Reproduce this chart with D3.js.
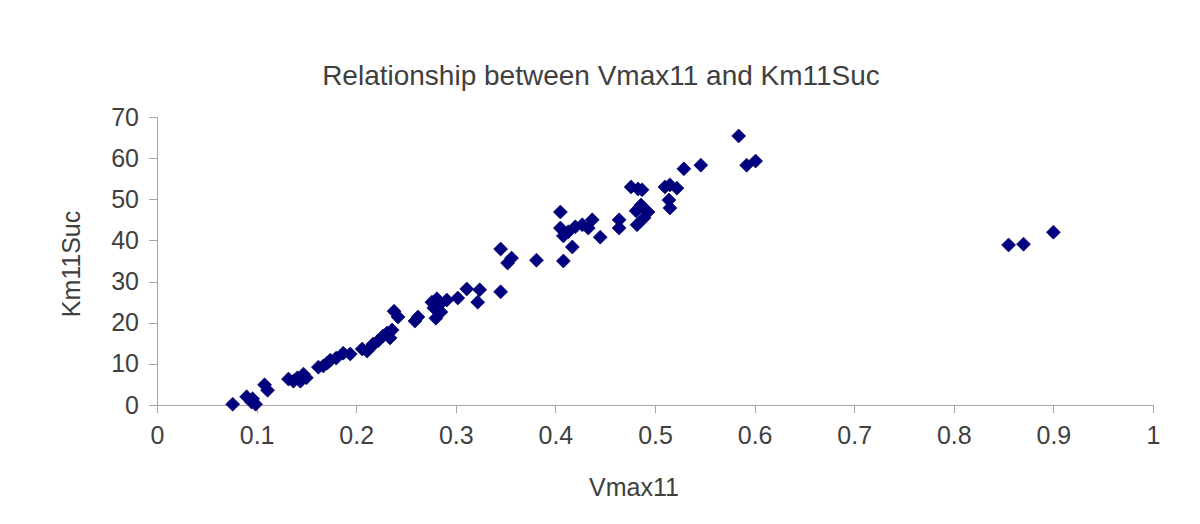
<!DOCTYPE html>
<html><head><meta charset="utf-8">
<script src="https://cdn.jsdelivr.net/npm/d3@7"></script>
<style>body{margin:0;background:#fff}svg{display:block}</style>
</head><body>
<script>
const titleText = "Relationship between Vmax11 and Km11Suc";
const xLabel = "Vmax11";
const yLabel = "Km11Suc";
const xTicks = [0,0.1,0.2,0.3,0.4,0.5,0.6,0.7,0.8,0.9,1];
const yTicks = [0,10,20,30,40,50,60,70];
const vmax = [0.076,0.090,0.095,0.099,0.096,0.108,0.111,0.132,0.137,0.141,0.144,0.147,0.150,0.162,0.167,0.171,0.174,0.180,0.187,0.194,0.206,0.211,0.214,0.217,0.222,0.227,0.231,0.234,0.236,0.238,0.242,0.259,0.262,0.276,0.278,0.281,0.284,0.280,0.285,0.291,0.302,0.311,0.322,0.324,0.345,0.345,0.352,0.356,0.381,0.405,0.405,0.408,0.408,0.413,0.417,0.420,0.427,0.433,0.437,0.445,0.464,0.464,0.476,0.483,0.487,0.481,0.486,0.482,0.493,0.489,0.510,0.515,0.514,0.515,0.522,0.529,0.546,0.584,0.592,0.601,0.855,0.870,0.900];
const km = [0.2,2.0,0.7,0.2,1.5,4.9,3.6,6.3,5.8,6.6,5.8,7.5,6.6,9.2,9.5,10.2,10.9,11.4,12.6,12.4,13.6,13.1,13.9,14.8,15.6,16.8,17.5,16.3,18.2,22.8,21.4,20.4,21.4,25.0,23.6,25.8,24.5,21.1,22.6,25.5,26.0,28.2,25.0,28.0,27.5,37.9,34.5,35.7,35.2,46.9,43.0,41.1,35.0,42.1,38.4,43.3,43.8,43.0,45.0,40.8,45.0,43.0,53.0,52.5,52.3,47.2,48.6,43.8,46.9,45.5,53.0,53.5,49.8,47.9,52.7,57.4,58.3,65.4,58.3,59.3,38.9,39.1,42.0];

const W = 1200, H = 524;
const svg = d3.select("body").append("svg").attr("width", W).attr("height", H);
const x = d3.scaleLinear().domain([0,1]).range([157,1153]);
const y = d3.scaleLinear().domain([0,70]).range([405,117]);
const font = "'Liberation Sans', Arial, sans-serif";
const axisCol = "#a6a6a6", textCol = "#404040";

const xa = svg.append("g").attr("transform", `translate(0,${y(0)})`)
  .call(d3.axisBottom(x).tickValues(xTicks).tickSize(8).tickPadding(13).tickFormat(d => String(+d.toFixed(1))));
const ya = svg.append("g").attr("transform", `translate(${x(0)},0)`)
  .call(d3.axisLeft(y).tickValues(yTicks).tickSize(8).tickPadding(8));
[xa, ya].forEach(g => {
  g.selectAll("path,line").attr("stroke", axisCol).attr("shape-rendering","crispEdges");
  g.selectAll("text").attr("fill", textCol).style("font-family", font).style("font-size", "25px");
});
xa.select(".domain").attr("d", `M${x(0)},0.5H${x(1)}`);
ya.select(".domain").attr("d", `M0.5,${y(0)}V${y(70)}`);
ya.selectAll("text").attr("x", -18);

const sym = d3.symbol().type(d3.symbolSquare).size(98);
svg.append("g").selectAll("path").data(vmax.map((v,i)=>[v,km[i]])).join("path")
  .attr("transform", d => `translate(${x(d[0])},${y(d[1])}) rotate(45)`)
  .attr("d", sym).attr("fill", "#000080").attr("stroke", "#00005a").attr("stroke-width", 0.6);

svg.append("text").attr("x", 601).attr("y", 85).attr("text-anchor","middle")
  .style("font-family", font).style("font-size","28px").attr("fill", textCol).text(titleText);
svg.append("text").attr("x", 634).attr("y", 496).attr("text-anchor","middle")
  .style("font-family", font).style("font-size","25px").attr("fill", textCol).text(xLabel);
svg.append("text").attr("transform","translate(80,264) rotate(-90)").attr("text-anchor","middle")
  .style("font-family", font).style("font-size","25px").attr("fill", textCol).text(yLabel);
</script>
</body></html>
